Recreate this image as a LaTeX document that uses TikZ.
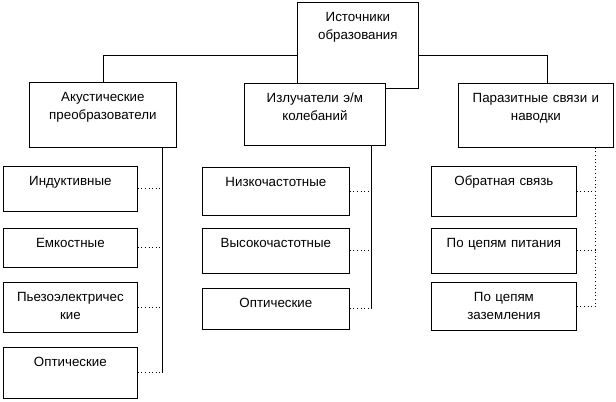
\documentclass[tikz,border=0pt]{standalone}
\usepackage{fontspec}
\setmainfont{Liberation Sans}
\usepackage{tikz}
\usetikzlibrary{positioning,calc}

\begin{document}
\begin{tikzpicture}[x=0.75pt, y=-0.75pt, line width=0.6pt,
		font=\fontsize{10}{13}\selectfont,
		blk/.style 2 args={draw, anchor=north west, inner sep=0pt,
			align=center, text width=#1, text height=14.5pt, text depth=#2},
		link/.style={dotted, line width=0.7pt}]
		\useasboundingbox (0,0) rectangle (616,402);
		% root
		\node[blk={90.75pt}{50pt}] (top) at (297,2) {Источники\\образования};
		% second level
		\node[blk={110.25pt}{34.25pt}] (ak) at (29,82) {Акустические\\преобразователи};
		\node[blk={116.25pt}{33.5pt}] (par) at (458,83) {Паразитные связи и\\наводки};
		\node[blk={105.75pt}{32pt}, fill=white] (izl) at (244,83) {Излучатели э/м\\колебаний};
		% acoustic converters
		\node[blk={100.5pt}{19.25pt}] (ind) at (3,166) {Индуктивные};
		\node[blk={100.5pt}{14.75pt}] (emk) at (3,228) {Емкостные};
		\node[blk={100.5pt}{23pt}] (pez) at (3,282) {Пьезоэлектричес\\кие};
		\node[blk={100.5pt}{23.75pt}] (opt1) at (3,347) {Оптические};
		% e/m emitters
		\node[blk={110.25pt}{21.5pt}] (nch) at (202,167) {Низкочастотные};
		\node[blk={110.25pt}{19.25pt}] (vch) at (202,228) {Высокочастотные};
		\node[blk={110.25pt}{16.25pt}] (opt2) at (202,288) {Оптические};
		% parasitic links
		\node[blk={108.75pt}{23pt}] (obr) at (431,166) {Обратная связь};
		\node[blk={108.75pt}{19.25pt}] (pit) at (431,228) {По цепям питания};
		\node[blk={108.75pt}{21.5pt}] (zaz) at (431,282) {По цепям\\заземления};
		% bus from the root
		\draw (ak.north) |- ([yshift=-7.5pt]top.west);
		\draw ([xshift=8.6pt]par.north) |- ([yshift=-7.5pt]top.east);
		% spines
		\coordinate (sL) at ([xshift=-10.5pt]ak.south east);
		\coordinate (sM) at ([xshift=-10.5pt]izl.south east);
		\coordinate (sR) at ([xshift=-13.5pt]par.south east);
		\draw (sL) -- (sL |- opt1.east);
		\draw (sM) -- (sM |- opt2.east);
		\draw[link] (sR) -- (sR |- zaz.east);
		\foreach \n in {ind,emk,pez,opt1}
			\draw[link] (\n.east) -- (sL |- \n.east);
		\foreach \n in {nch,vch,opt2}
			\draw[link] (\n.east) -- (sM |- \n.east);
		\foreach \n in {obr,pit,zaz}
			\draw[link] (\n.east) -- (sR |- \n.east);
	\end{tikzpicture}
\end{document}
